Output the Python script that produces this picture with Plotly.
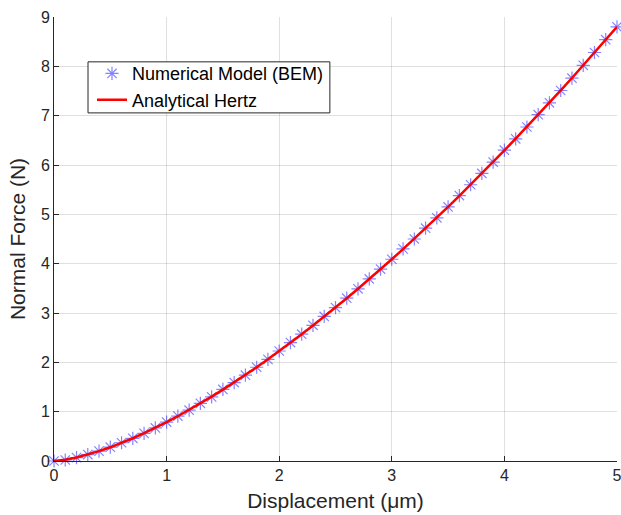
import plotly.graph_objects as go

displacement_um = [0.0, 0.1, 0.2, 0.3, 0.4, 0.5, 0.6, 0.7, 0.8, 0.9,
                   1.0, 1.1, 1.2, 1.3, 1.4, 1.5, 1.6, 1.7, 1.8, 1.9,
                   2.0, 2.1, 2.2, 2.3, 2.4, 2.5, 2.6, 2.7, 2.8, 2.9,
                   3.0, 3.1, 3.2, 3.3, 3.4, 3.5, 3.6, 3.7, 3.8, 3.9,
                   4.0, 4.1, 4.2, 4.3, 4.4, 4.5, 4.6, 4.7, 4.8, 4.9, 5.0]

force_bem_N = [0.00, 0.02, 0.07, 0.13, 0.20, 0.28, 0.37, 0.46, 0.56, 0.67,
               0.79, 0.91, 1.03, 1.17, 1.30, 1.45, 1.59, 1.74, 1.90, 2.06,
               2.23, 2.40, 2.57, 2.75, 2.93, 3.11, 3.30, 3.49, 3.69, 3.89,
               4.09, 4.30, 4.50, 4.72, 4.93, 5.15, 5.38, 5.60, 5.83, 6.06,
               6.30, 6.53, 6.77, 7.02, 7.26, 7.51, 7.76, 8.02, 8.28, 8.54, 8.80]

force_hertz_N = [0.000, 0.025, 0.070, 0.129, 0.199, 0.278, 0.366, 0.461, 0.563, 0.672,
                 0.787, 0.908, 1.035, 1.166, 1.304, 1.446, 1.593, 1.744, 1.901, 2.061,
                 2.226, 2.395, 2.568, 2.745, 2.926, 3.111, 3.299, 3.492, 3.687, 3.887,
                 4.089, 4.295, 4.505, 4.718, 4.934, 5.153, 5.376, 5.601, 5.830, 6.061,
                 6.296, 6.534, 6.774, 7.017, 7.264, 7.513, 7.764, 8.019, 8.276, 8.536, 8.799]

x_ticks = [0, 1, 2, 3, 4, 5]
y_ticks = [0, 1, 2, 3, 4, 5, 6, 7, 8, 9]

FONT = "Liberation Sans, Arial, Helvetica, sans-serif"

fig = go.Figure()
fig.add_trace(go.Scatter(
    x=displacement_um, y=force_bem_N, mode="markers",
    name="Numerical Model (BEM)",
    marker=dict(symbol="asterisk-open", size=11, color="rgba(50,50,255,0.6)",
                line=dict(width=1.2, color="rgba(50,50,255,0.6)")),
    cliponaxis=False,
))
fig.add_trace(go.Scatter(
    x=displacement_um, y=force_hertz_N, mode="lines",
    name="Analytical Hertz",
    line=dict(color="#ff0000", width=2.5),
    cliponaxis=False,
))

axis_common = dict(
    showline=True, linecolor="#262626", linewidth=1, mirror=False,
    showgrid=True, gridcolor="rgba(0,0,0,0.12)", gridwidth=1,
    ticks="inside", ticklen=5, tickcolor="#262626", tickwidth=1,
    zeroline=False, tickfont=dict(family=FONT, size=16, color="#262626"),
    ticklabeloverflow="allow",
)

# legend frame drawn as a shape (paper coords of the plot area)
fig.add_shape(type="rect", xref="paper", yref="paper",
              x0=0.0604, x1=0.490, y0=0.784, y1=0.899,
              line=dict(color="#262626", width=1), fillcolor="white", layer="above")

fig.update_layout(
    width=621, height=515,
    margin=dict(l=54, r=4, t=17, b=54),
    paper_bgcolor="white", plot_bgcolor="white",
    font=dict(family=FONT, color="#262626"),
    xaxis=dict(range=[0, 5], tickvals=x_ticks, automargin="bottom",
               title=dict(text="Displacement (μm)", font=dict(family=FONT, size=21, color="#262626"), standoff=10),
               **axis_common),
    yaxis=dict(range=[0, 9], tickvals=y_ticks, automargin="left",
               title=dict(text="Normal Force (N)", font=dict(family=FONT, size=21, color="#262626"), standoff=9),
               **axis_common),
    legend=dict(x=0.0675, y=0.914, xanchor="left", yanchor="top",
                bgcolor="rgba(0,0,0,0)", borderwidth=0,
                font=dict(family=FONT, size=18, color="#000000"),
                tracegroupgap=0),
    showlegend=True,
)

fig.write_html("out.html", config={"displayModeBar": False},
               post_script="document.body.style.margin='0px';")
